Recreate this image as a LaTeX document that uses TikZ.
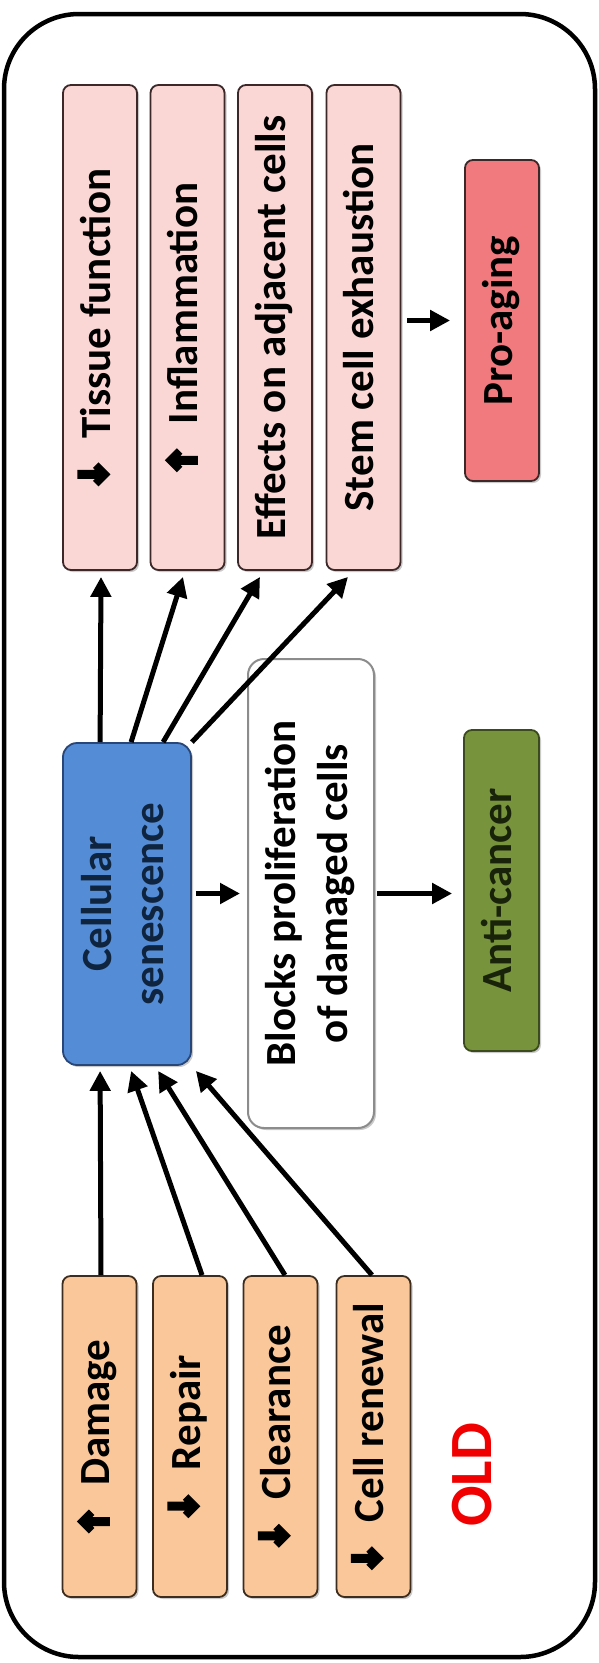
\documentclass[tikz,border=0pt]{standalone}
\usepackage{fontspec}
\setmainfont{Carlito}
\usetikzlibrary{arrows.meta,shadows,calc}
\definecolor{pinkfill}{RGB}{250,214,212}
\definecolor{pinkdraw}{RGB}{60,40,40}
\definecolor{profill}{RGB}{240,122,126}
\definecolor{orfill}{RGB}{250,199,154}
\definecolor{ordraw}{RGB}{60,45,30}
\definecolor{csfill}{RGB}{84,140,214}
\definecolor{csdraw}{RGB}{40,70,120}
\definecolor{cstext}{RGB}{15,36,62}
\definecolor{acfill}{RGB}{119,147,60}
\definecolor{acdraw}{RGB}{60,75,30}
\definecolor{actext}{RGB}{25,35,10}
\definecolor{oldred}{RGB}{240,0,0}
\pgfdeclarehorizontalshading{shpink}{100bp}{color(0bp)=(pinkfill!25!white); color(10bp)=(pinkfill); color(86bp)=(pinkfill); color(100bp)=(pinkfill!80!black)}
\pgfdeclarehorizontalshading{shpro}{100bp}{color(0bp)=(profill!45!white); color(10bp)=(profill); color(86bp)=(profill); color(100bp)=(profill!80!black)}
\pgfdeclarehorizontalshading{shor}{100bp}{color(0bp)=(orfill!25!white); color(10bp)=(orfill); color(86bp)=(orfill); color(100bp)=(orfill!78!black)}
\pgfdeclarehorizontalshading{shcs}{100bp}{color(0bp)=(csfill!60!white); color(8bp)=(csfill); color(90bp)=(csfill); color(100bp)=(csfill!75!black)}
\pgfdeclarehorizontalshading{shac}{100bp}{color(0bp)=(acfill!60!white); color(10bp)=(acfill); color(86bp)=(acfill); color(100bp)=(acfill!75!black)}
\newsavebox{\dnglyph}
\newsavebox{\upglyph}
\newcommand\gp[2]{\pgfpoint{#1pt}{#2pt}}
\newcommand\vtext[1]{\rotatebox{90}{\begin{tabular}{@{}c@{}}#1\end{tabular}}}
\newcommand\upar{\usebox{\upglyph}\hspace{24pt}}
\newcommand\dnar{\usebox{\dnglyph}\hspace{24pt}}
\begin{document}
\sbox{\dnglyph}{\begin{pgfpicture}\pgfpathmoveto{\gp{0}{0}}\pgfpathlineto{\gp{12}{12}}\pgfpathlineto{\gp{6.5}{17.5}}\pgfpathlineto{\gp{4.5}{15.5}}\pgfpathlineto{\gp{4.5}{33}}\pgfpathlineto{\gp{-4.5}{33}}\pgfpathlineto{\gp{-4.5}{15.5}}\pgfpathlineto{\gp{-6.5}{17.5}}\pgfpathlineto{\gp{-12}{12}}\pgfpathclose\pgfusepath{fill}\end{pgfpicture}}%
\sbox{\upglyph}{\begin{pgfpicture}\pgfpathmoveto{\gp{0}{33}}\pgfpathlineto{\gp{12}{21}}\pgfpathlineto{\gp{6.5}{15.5}}\pgfpathlineto{\gp{4.5}{17.5}}\pgfpathlineto{\gp{4.5}{0}}\pgfpathlineto{\gp{-4.5}{0}}\pgfpathlineto{\gp{-4.5}{17.5}}\pgfpathlineto{\gp{-6.5}{15.5}}\pgfpathlineto{\gp{-12}{21}}\pgfpathclose\pgfusepath{fill}\end{pgfpicture}}%
\begin{tikzpicture}[x=1pt,y=-1pt,
  box/.style={rounded corners=8pt, line width=1.8pt, inner sep=0pt,
    font=\fontsize{43}{52}\selectfont\bfseries,
    drop shadow={shadow xshift=2pt,shadow yshift=-2pt,opacity=0.35,fill=black!60}},
  pinkbox/.style={box, shading=shpink, draw=pinkdraw, minimum width=74pt, minimum height=485pt},
  probox/.style={box, shading=shpro, draw=pinkdraw, minimum width=74pt, minimum height=321pt},
  orbox/.style={box, shading=shor, draw=ordraw, minimum width=74pt, minimum height=321pt},
  csbox/.style={box, rounded corners=14pt, shading=shcs, draw=csdraw, text=cstext, minimum width=128pt, minimum height=322pt},
  blbox/.style={box, rounded corners=16pt, fill=white, draw=black!45, line width=2pt, minimum width=126pt, minimum height=469pt},
  acbox/.style={box, shading=shac, draw=acdraw, text=actext, minimum width=75pt, minimum height=321pt},
  arr/.style={line width=5pt, -{Triangle[length=20pt,width=20pt]}}]
\useasboundingbox (0,0) rectangle (599,1663);
\draw[line width=4.5pt, rounded corners=75pt] (4,14) rectangle (595,1657);
% top row
\node[pinkbox] (tis) at (100,327.5) {\vtext{\dnar Tissue function}};
\node[pinkbox] (inf) at (187.5,327.5) {\vtext{\upar Inflammation}};
\node[pinkbox] (eff) at (275,327.5) {\vtext{Effects on adjacent cells}};
\node[pinkbox] (stem) at (363.5,327.5) {\vtext{Stem cell exhaustion}};
\node[probox] (pro) at (502,320.5) {\vtext{Pro-aging}};
% middle
\node[csbox] (cs) at (127,904) {\vtext{Cellular\\senescence}};
\node[blbox] (bl) at (311,893.5) {\vtext{Blocks proliferation\\of damaged cells}};
\node[acbox] (ac) at (501.5,890.5) {\vtext{Anti-cancer}};
% bottom
\node[orbox] (dam) at (99.5,1436.5) {\vtext{\upar Damage}};
\node[orbox] (rep) at (190,1436.5) {\vtext{\dnar Repair}};
\node[orbox] (clr) at (280.5,1436.5) {\vtext{\dnar Clearance}};
\node[orbox] (ren) at (373.5,1436.5) {\vtext{\dnar Cell renewal}};
\node[text=oldred, font=\fontsize{60}{60}\selectfont\bfseries] (old) at (472,1475) {\rotatebox{90}{OLD}};
% arrows up
\draw[arr] ($(cs.north west)+(38,0)$) -- ($(tis.south)+(1,6)$);
\draw[arr] ($(cs.north west)+(69,0)$) -- ($(inf.south)+(-4.5,6)$);
\draw[arr] ($(cs.north west)+(101,0)$) -- ($(eff.south)+(-15,6)$);
\draw[arr] (cs.north east) -- ($(stem.south)+(-15.5,6)$);
% arrows from bottom
\draw[arr] ($(dam.north)+(1.5,0)$) -- ($(cs.south west)+(38,5)$);
\draw[arr] ($(rep.north)+(12,0)$) -- ($(cs.south west)+(69,5)$);
\draw[arr] ($(clr.north)+(4.5,0)$) -- ($(cs.south west)+(96,5)$);
\draw[arr] ($(ren.north)+(-1.5,0)$) -- ($(cs.south east)+(4,5)$);
% horizontal arrows
\draw[arr] ([xshift=4pt]cs.east |- bl.west) -- ([xshift=-7pt]bl.west);
\draw[arr] ([xshift=2pt]bl.east) -- ([xshift=-11pt]ac.west |- bl.east);
\draw[arr] ([xshift=6pt]stem.east |- pro.west) -- ([xshift=-14pt]pro.west);
\end{tikzpicture}
\end{document}
